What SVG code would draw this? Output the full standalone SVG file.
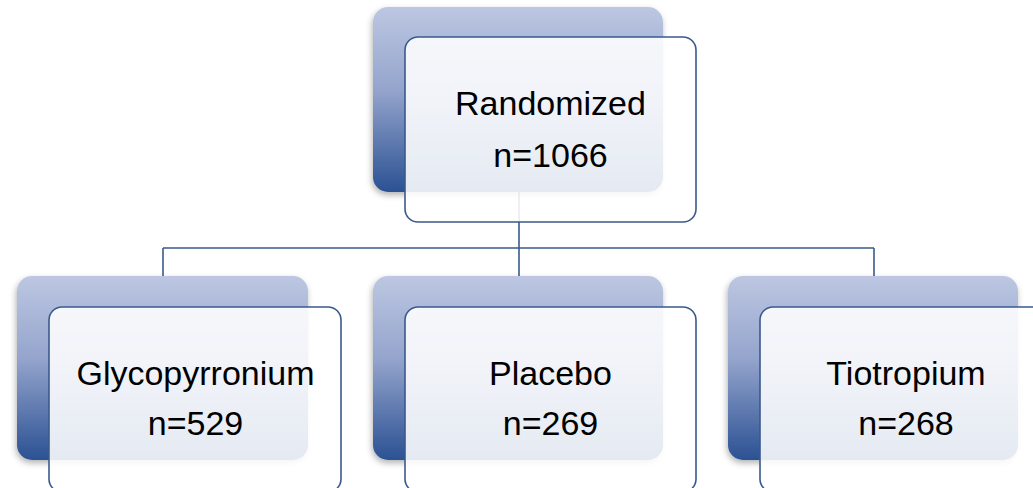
<svg xmlns="http://www.w3.org/2000/svg" width="1033" height="488" viewBox="0 0 1033 488">
<defs>
<linearGradient id="g" x1="0" y1="0" x2="0" y2="1">
<stop offset="0" stop-color="#bdc7e2"/>
<stop offset="0.45" stop-color="#94a4cc"/>
<stop offset="1" stop-color="#2b5193"/>
</linearGradient>
<filter id="sh" x="-10%" y="-10%" width="120%" height="125%">
<feDropShadow dx="-1" dy="3" stdDeviation="3" flood-color="#000" flood-opacity="0.3"/>
</filter>
<style>
.back{fill:url(#g);filter:url(#sh)}
.front{fill:#ffffff;fill-opacity:0.88;stroke:#3a5a8c;stroke-width:1.6}
.t{font-family:"Liberation Sans",Arial,sans-serif;font-size:34px;fill:#000;text-anchor:middle}
.c{fill:none;stroke:#3a5a8c;stroke-width:1.6}
</style>
</defs>
<rect width="1033" height="488" fill="#fff"/>
<g id="connectors">
<path class="c" d="M519 192V248M163 248H874M163 248V277M519 248V277M874 248V277"/>
</g>
<g id="randomized">
<rect class="back" x="373" y="7" width="290" height="185" rx="15"/>
<rect class="front" x="405" y="37" width="291" height="185" rx="13"/>
<text class="t" x="550.5" y="115">Randomized</text>
<text class="t" x="550.5" y="167">n=1066</text>
</g>
<g id="glycopyrronium">
<rect class="back" x="17" y="276" width="291" height="184" rx="15"/>
<rect class="front" x="49" y="307" width="292" height="185" rx="13"/>
<text class="t" x="195.5" y="385">Glycopyrronium</text>
<text class="t" x="195.5" y="435">n=529</text>
</g>
<g id="placebo">
<rect class="back" x="373" y="276" width="290" height="184" rx="15"/>
<rect class="front" x="405" y="307" width="291" height="185" rx="13"/>
<text class="t" x="550.5" y="385">Placebo</text>
<text class="t" x="550.5" y="435">n=269</text>
</g>
<g id="tiotropium">
<rect class="back" x="728" y="276" width="290" height="184" rx="15"/>
<rect class="front" x="760" y="307" width="291" height="185" rx="13"/>
<text class="t" x="906" y="385">Tiotropium</text>
<text class="t" x="906" y="435">n=268</text>
</g>
</svg>
